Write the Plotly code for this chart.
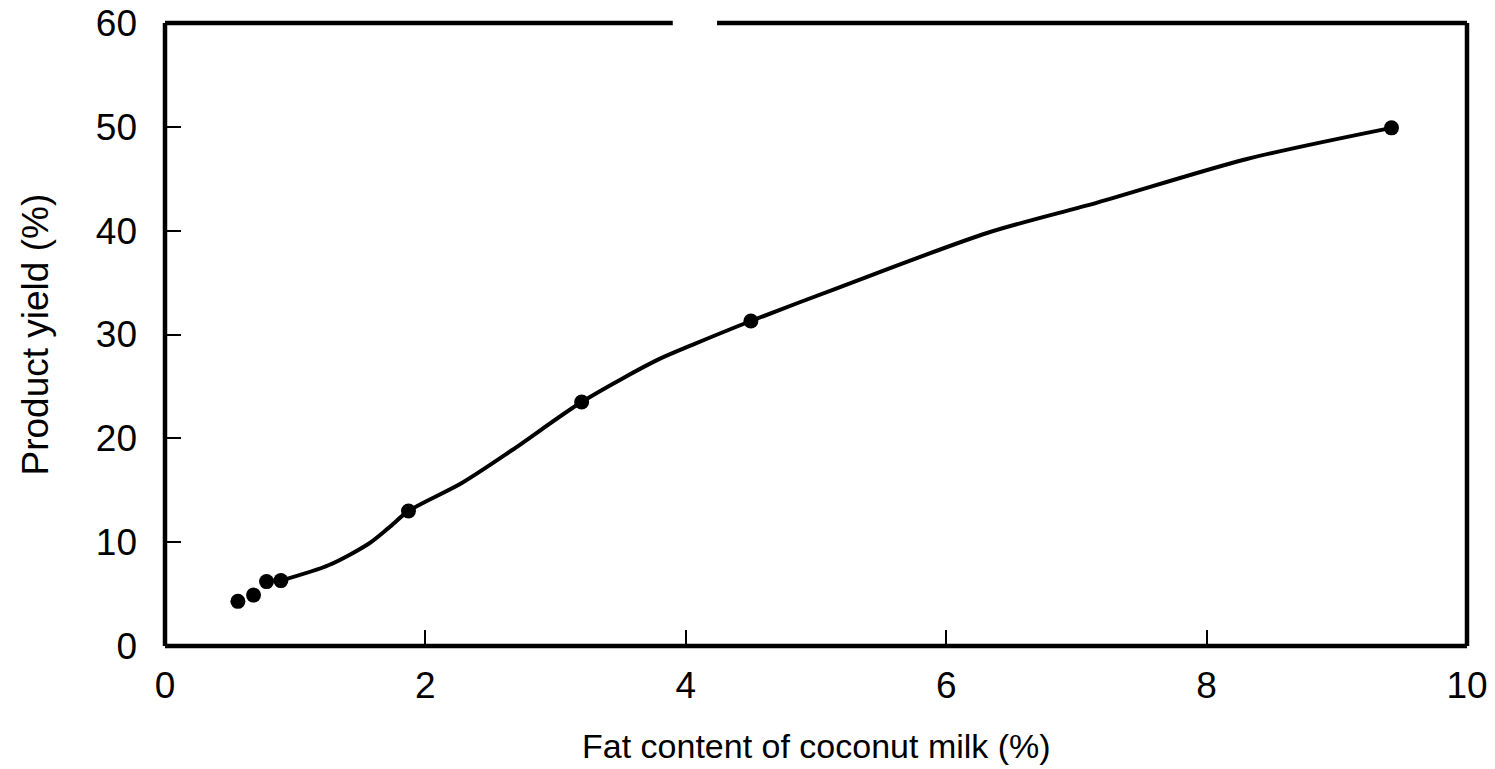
import plotly.graph_objects as go

# Measured points: fat content of coconut milk vs product yield
fat_pct = [0.56, 0.68, 0.78, 0.89, 1.87, 3.2, 4.5, 9.42]
yield_pct = [4.3, 4.9, 6.2, 6.3, 13.0, 23.5, 31.3, 49.9]

# Hand-fitted trend curve through the data
curve_fat = [0.89, 1.26, 1.57, 1.72, 1.87, 2.28, 2.67, 3.2, 3.79, 4.05, 4.5,
             5.17, 6.32, 7.16, 8.31, 9.42]
curve_yield = [6.3, 7.8, 9.9, 11.4, 13.0, 15.7, 18.9, 23.5, 27.6, 29.0, 31.3,
               34.5, 39.8, 42.7, 46.9, 49.9]

x_ticks = [0, 2, 4, 6, 8, 10]
y_ticks = [0, 10, 20, 30, 40, 50, 60]

FONT = "Liberation Sans, Arial, Helvetica, sans-serif"

fig = go.Figure()
fig.add_trace(go.Scatter(
    x=curve_fat, y=curve_yield, mode="lines",
    line=dict(color="black", width=4, shape="spline", smoothing=0.8),
    hoverinfo="skip", showlegend=False))
fig.add_trace(go.Scatter(
    x=fat_pct, y=yield_pct, mode="markers",
    marker=dict(color="black", size=15),
    showlegend=False))

# Frame drawn in paper coordinates (unclipped): left, bottom, right,
# and a top edge with a short break in it
frame = dict(color="black", width=4.5)
for x0, x1, y0, y1 in [(0, 0, 0, 1), (0, 1, 0, 0), (1, 1, 0, 1),
                       (0, 0.39, 1, 1), (0.424, 1, 1, 1)]:
    fig.add_shape(type="line", xref="paper", yref="paper",
                  x0=x0, x1=x1, y0=y0, y1=y1, line=frame)

fig.update_xaxes(
    range=[0, 10], tickvals=x_ticks, ticktext=[str(v) for v in x_ticks],
    ticks="inside", ticklen=16, tickwidth=1.5, tickcolor="black",
    showgrid=False, zeroline=False, showline=False, automargin=False,
    tickfont=dict(family=FONT, size=37, color="black"),
    ticklabelstandoff=14)
fig.update_yaxes(
    range=[0, 60], tickvals=y_ticks, ticktext=[str(v) for v in y_ticks],
    ticks="inside", ticklen=16, tickwidth=1.5, tickcolor="black",
    showgrid=False, zeroline=False, showline=False, automargin=False,
    tickfont=dict(family=FONT, size=37, color="black"),
    ticklabelstandoff=27)

fig.add_annotation(
    text="Fat content of coconut milk (%)", xref="paper", yref="paper",
    x=0.5, y=0, yshift=-100, showarrow=False, xanchor="center", yanchor="middle",
    font=dict(family=FONT, size=34, color="black"))
fig.add_annotation(
    text="Product yield (%)", xref="paper", yref="paper",
    x=0, y=0.5, xshift=-130, showarrow=False, textangle=-90,
    xanchor="center", yanchor="middle",
    font=dict(family=FONT, size=37, color="black"))

fig.update_layout(
    width=1495, height=769,
    margin=dict(l=165, r=28, t=23, b=123, autoexpand=False),
    paper_bgcolor="white", plot_bgcolor="white")

fig.write_html("out.html")
